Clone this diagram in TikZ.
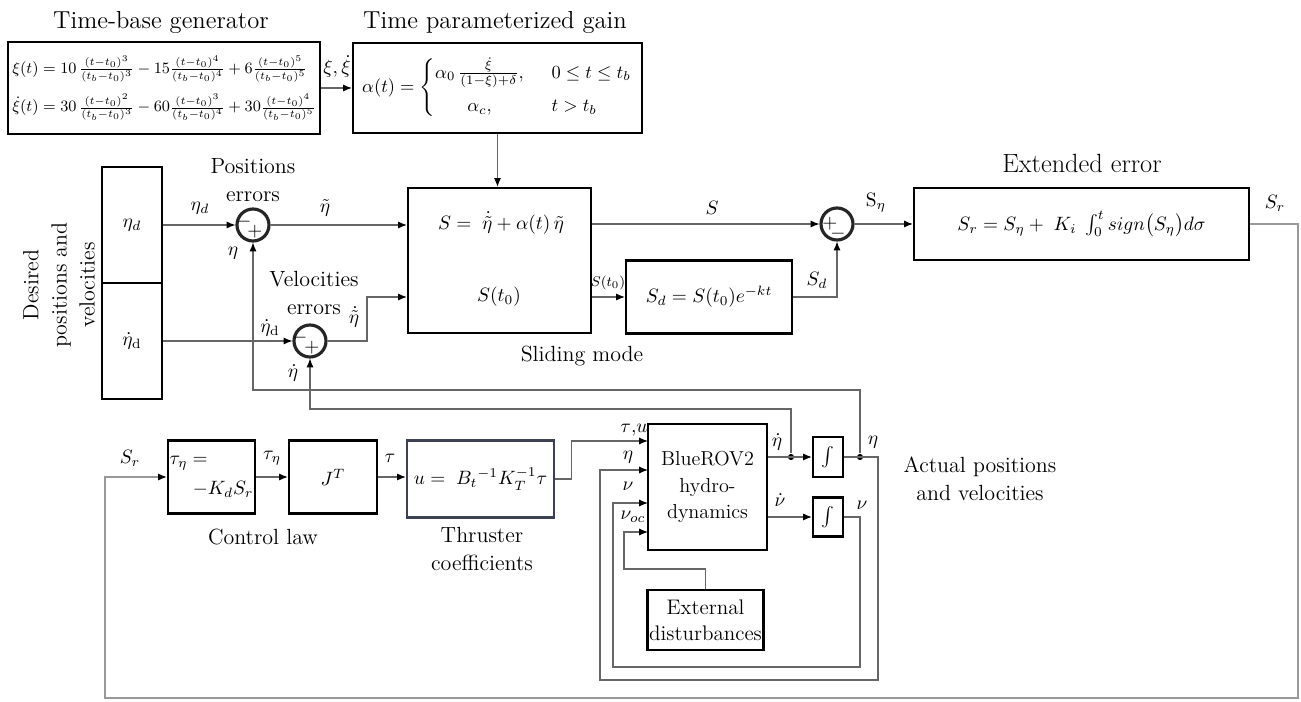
\RequirePackage{fix-cm}
\documentclass[tikz,border=0pt]{standalone}
\usepackage{amsmath}
\usetikzlibrary{arrows.meta, positioning}
\definecolor{thrblue}{RGB}{60,66,82}
\def\txtsize{\fontsize{12.5}{16}\selectfont}
\def\ttlsize{\fontsize{14}{17}\selectfont}
\def\bigsize{\fontsize{15}{18}\selectfont}
\def\mathsize{\fontsize{11}{14}\selectfont}
\def\gensize{\fontsize{9}{12}\selectfont}
\def\tinysize{\fontsize{8}{9}\selectfont}

\begin{document}
\begin{tikzpicture}[x=0.02cm, y=-0.02cm, >={Latex[length=5pt,width=4pt,color=black]}, draw=black!60, line width=0.6pt]
    \tikzstyle{every node}=[font=\txtsize]
    \tikzstyle{block}=[rectangle, draw=black, line width=1.3pt, inner sep=1pt, align=center, font=\mathsize]
    \tikzstyle{thr block}=[block, draw=thrblue]
    \tikzstyle{sum}=[circle, draw=black!85, line width=1.8pt, minimum size=0.64cm, inner sep=0pt]
    \tikzstyle{sgn}=[inner sep=0pt, font=\mathsize]
    \tikzstyle{sig}=[inner sep=1pt, font=\mathsize]
    \tikzstyle{heading}=[font=\ttlsize]
    \tikzstyle{jdot}=[circle, fill=black, inner sep=0pt, minimum size=3.5pt]
    \tikzstyle{fb}=[draw=black!40]

    \useasboundingbox (0,0) rectangle (1301,702);

    % Time base and gain blocks
    \node[heading] (genttl) at (161,22) {Time-base generator};
    \node[block, minimum width=6.24cm, minimum height=1.84cm, align=left, font=\gensize] (gen) at (164,88)
        {$\xi(t) = 10\,\frac{(t-t_0)^3}{(t_b-t_0)^3} - 15\frac{(t-t_0)^4}{(t_b-t_0)^4} + 6\frac{(t-t_0)^5}{(t_b-t_0)^5}$\\[6pt]
         $\dot{\xi}(t) = 30\,\frac{(t-t_0)^2}{(t_b-t_0)^3} - 60\frac{(t-t_0)^3}{(t_b-t_0)^4} + 30\frac{(t-t_0)^4}{(t_b-t_0)^5}$};
    \node[heading] (gainttl) at (495,22) {Time parameterized gain};
    \node[block, minimum width=5.78cm, minimum height=1.8cm, font=\fontsize{10.5}{13}\selectfont] (gain) at (497.5,88)
        {$\alpha(t) = \left\{\begin{array}{@{}cl@{}} \alpha_0\,\frac{\dot{\xi}}{(1-\xi)+\delta}, & \;\; 0 \le t \le t_b \\[6pt] \alpha_c, & \;\; t > t_b \end{array}\right.$};

    % Desired positions and velocities
    \node[rotate=90, align=center] (deslbl) at (59,285) {Desired\\positions and\\velocities};
    \node[block, minimum width=1.2cm, minimum height=2.32cm] (des1) at (132,225) {$\eta_d$};
    \node[block, minimum width=1.2cm, minimum height=2.32cm] (des2) at (132,341) {$\dot{\eta}_{\mathrm{d}}$};

    % Error sums
    \node[sum] (sum1) at (253,225) {};
    \node[sum] (sum2) at (310,341) {};
    \node[sgn] (s1m) at (244,222) {$-$};
    \node[sgn] (s1p) at (255,232) {$+$};
    \node[sgn] (s2m) at (300,338) {$-$};
    \node[sgn] (s2p) at (312,348) {$+$};
    \node[align=center] (poserr) at (253,180) {Positions\\errors};
    \node[align=center] (velerr) at (314,293) {Velocities\\errors};

    % Sliding mode
    \node[block, minimum width=3.66cm, minimum height=2.9cm] (slide) at (499.5,260.5) {};
    \node[font=\mathsize] (seq) at (501,223) {$S = \;\dot{\tilde{\eta}} + \alpha(t)\,\tilde{\eta}$};
    \node[font=\mathsize] (st0) at (499,297) {$S(t_0)$};
    \node[block, minimum width=3.32cm, minimum height=1.46cm] (sd) at (709,297) {$S_d = S(t_0)e^{-kt}$};
    \node (slidelbl) at (582,356) {Sliding mode};
    \node[sum] (sum3) at (837,224) {};
    \node[sgn] (s3p) at (830,224) {$+$};
    \node[sgn] (s3m) at (838,234) {$-$};

    % Extended error
    \node[heading, font=\bigsize] (extttl) at (1082,163) {Extended error};
    \node[block, minimum width=6.7cm, minimum height=1.44cm] (ext) at (1081.5,224)
        {$S_r = S_\eta +\; K_i\;\int_0^t sign\big(S_\eta\big)d\sigma$};

    % Control law and thrusters
    \node[block, minimum width=1.74cm, minimum height=1.46cm, align=left, inner sep=0pt] (ctrl) at (211.5,477) {$\tau_\eta =$\\[3pt]\hspace{1.2em}$-K_dS_r$};
    \node[block, minimum width=1.76cm, minimum height=1.46cm] (jt) at (333,477) {$J^T$};
    \node[thr block, minimum width=2.94cm, minimum height=1.54cm] (thr) at (480.5,479) {$u = \;B_t{}^{-1}K_T^{-1}\tau$};
    \node (ctrllbl) at (263,537) {Control law};
    \node[align=center] (thrlbl) at (482,549) {Thruster\\coefficients};

    % Vehicle model
    \node[block, minimum width=2.38cm, minimum height=2.52cm, font=\fontsize{11.5}{15}\selectfont] (rov) at (707.5,487) {BlueROV2\\hydro-\\dynamics};
    \node[block, minimum width=0.6cm, minimum height=0.8cm, inner sep=0pt] (int1) at (828,457) {$\int$};
    \node[block, minimum width=0.6cm, minimum height=0.78cm, inner sep=0pt] (int2) at (828,517) {$\int$};
    \node[block, minimum width=2.3cm, minimum height=1.2cm, font=\fontsize{12}{15}\selectfont] (dist) at (705.5,620) {External\\disturbances};
    \node[align=center] (actlbl) at (980,479) {Actual positions\\and velocities};
    \node[jdot] (d1) at (791,457) {};
    \node[jdot] (d2) at (860,457) {};

    \coordinate (in1) at (648,441);
    \coordinate (in2) at (648,470);
    \coordinate (in3) at (648,503);
    \coordinate (in4) at (648,532);
    \coordinate (bend) at (367,341);
    \coordinate (srR) at (1298,698);
    \coordinate (srL) at (105,698);
    \coordinate (etaR) at (878,680);
    \coordinate (etaL) at (600,680);
    \coordinate (nuR) at (860,667);
    \coordinate (nuL) at (613,667);
    \coordinate (distbend) at (624,569);
    \coordinate (fbA) at (860,390);
    \coordinate (fbB) at (791,409);

    % Connections
    \draw[->] (gen.east) -- (gain.west);
    \draw[->] (gain.south) -- (gain.south |- slide.north);
    \draw[->] (des1.east) -- (sum1.west);
    \draw[->] (sum1.east) -- (sum1.east -| slide.west);
    \draw[->] (des2.east) -- (sum2.west);
    \draw[->] (sum2.east) -- (bend) |- (slide.west |- st0);
    \draw[->] (slide.east |- sd.west) -- (sd.west);
    \draw[->] (slide.east |- sum3) -- (sum3.west);
    \draw[->] (sd.east) -| (sum3.south);
    \draw[->] (sum3.east) -- (ext.west);
    \draw[fb,->] (ext.east) -| (srR) -- (srL) |- (ctrl.west);
    \draw[->] (ctrl.east) -- (jt.west);
    \draw[->] (jt.east) -- (jt.east -| thr.west);
    \draw[->] (thr.east) -- ++(16,0) |- (in1);
    \draw[->] (rov.east |- int1) -- (int1.west);
    \draw[->] (rov.east |- int2) -- (int2.west);
    \draw[->] (int1.east) -| (etaR) -- (etaL) |- (in2);
    \draw[->] (int2.east) -| (nuR) -- (nuL) |- (in3);
    \draw[->] (dist.north) |- (distbend) |- (in4);
    \draw[->] (d2) -- (fbA) -| (sum1.south);
    \draw[->] (d1) -- (fbB) -| (sum2.south);

    % Signal labels
    \node[sig] (l-xi) at (337,66) {$\xi,\dot{\xi}$};
    \node[sig] (l-etad) at (200,208) {$\eta_d$};
    \node[sig] (l-etat) at (325,208) {$\tilde{\eta}$};
    \node[sig] (l-eta1) at (233,253) {$\eta$};
    \node[sig] (l-detad) at (270,328) {$\dot{\eta}_{\mathrm{d}}$};
    \node[sig] (l-detat) at (354,317) {$\dot{\tilde{\eta}}$};
    \node[sig] (l-deta1) at (293,373) {$\dot{\eta}$};
    \node[sig] (l-s) at (712,208) {$S$};
    \node[sig, font=\tinysize] (l-st0) at (608,283) {$S(t_0)$};
    \node[sig] (l-sd) at (817,280) {$S_d$};
    \node[sig] (l-seta) at (876,203) {$\mathrm{S}_\eta$};
    \node[sig] (l-sr1) at (1275,203) {$S_r$};
    \node[sig] (l-sr2) at (130,458) {$S_r$};
    \node[sig] (l-taueta) at (272,458) {$\tau_\eta$};
    \node[sig] (l-tau) at (390,458) {$\tau$};
    \node[sig] (l-tauu) at (634,430) {$\tau{,}u$};
    \node[sig] (l-eta2) at (628,457) {$\eta$};
    \node[sig] (l-nu1) at (628,486) {$\nu$};
    \node[sig] (l-nuoc) at (633,517) {$\nu_{oc}$};
    \node[sig] (l-deta2) at (777,442) {$\dot{\eta}$};
    \node[sig] (l-dnu) at (780,500) {$\dot{\nu}$};
    \node[sig] (l-eta3) at (873,442) {$\eta$};
    \node[sig] (l-nu2) at (862,505) {$\nu$};
\end{tikzpicture}
\end{document}
